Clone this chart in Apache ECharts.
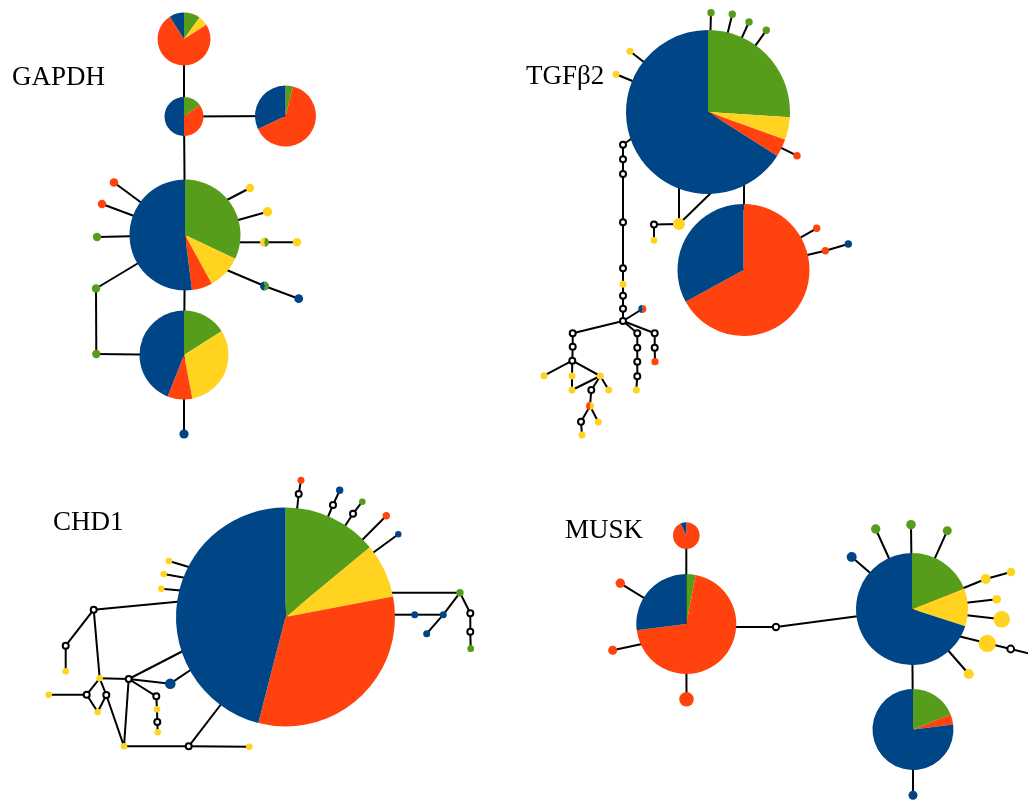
<!DOCTYPE html>
<html>
<head>
<meta charset="utf-8">
<title>Haplotype networks</title>
<script src="https://cdn.jsdelivr.net/npm/echarts@6/dist/echarts.min.js"></script>
<style>
  html, body { margin: 0; padding: 0; background: #ffffff; }
  #chart { width: 1028px; height: 800px; }
</style>
</head>
<body>
<div id="chart"></div>
<script>
// Sample groups, in the order the wedges run clockwise from 12 o'clock
const groupColors = ['#579d1c', '#ffd320', '#ff420e', '#004586'];

// ---------- GAPDH ----------
// sample counts per haplotype: [green, yellow, red, blue]; all zero = inferred haplotype
const gapdhCounts = {
  g1: [10, 6, 75, 9], g2: [15, 0, 35, 50], g3: [4, 0, 64, 32],
  g4: [32, 10, 6, 52], g5: [16, 31, 9, 44], g6: [0, 0, 0, 1],
  g7: [0, 0, 1, 0], g8: [0, 0, 1, 0], g9: [1, 0, 0, 0], g10: [1, 0, 0, 0],
  g11: [1, 0, 0, 0], g12: [0, 1, 0, 0], g13: [0, 1, 0, 0], g14: [1, 1, 0, 0],
  g15: [0, 1, 0, 0], g16: [1, 0, 0, 1], g17: [0, 0, 0, 1]
};
// network layout: x, y, node radius
const gapdhLayout = {
  g1: [184, 39, 26.5], g2: [184, 116.5, 19.5], g3: [285.5, 116, 30.5],
  g4: [185, 235, 55.5], g5: [184, 355, 44.5], g6: [184, 434, 4.6],
  g7: [114, 182.5, 4.3], g8: [102, 204, 4.2], g9: [97, 237, 4.2], g10: [96, 288.5, 4.2],
  g11: [96.3, 354, 4.2], g12: [250, 188, 4.2], g13: [267.5, 211.7, 4.7], g14: [264.5, 242.3, 4.5],
  g15: [297, 242.3, 4.2], g16: [264.5, 286, 4.5], g17: [298.7, 298.7, 4.4]
};
const gapdhLinks = [
  ['g1', 'g2'], ['g2', 'g3'], ['g2', 'g4'], ['g4', 'g5'], ['g5', 'g6'],
  ['g4', 'g7'], ['g4', 'g8'], ['g4', 'g9'], ['g4', 'g10'], ['g10', 'g11'], ['g11', 'g5'],
  ['g12', [225, 201]], ['g4', 'g13'], ['g14', [235, 242.3]], ['g14', 'g15'],
  ['g16', [222, 268]], ['g16', 'g17']
];

// ---------- TGFβ2 ----------
const tgfCounts = {
  t1: [26, 4.5, 3.5, 66], t2: [0, 0, 67, 33],
  t3: [1, 0, 0, 0], t4: [1, 0, 0, 0], t5: [1, 0, 0, 0], t6: [1, 0, 0, 0],
  t7: [0, 1, 0, 0], t8: [0, 1, 0, 0], t9: [0, 0, 1, 0], t10: [0, 1, 0, 0],
  t11: [0, 0, 0, 0], t12: [0, 1, 0, 0], t13: [0, 0, 1, 0], t14: [0, 0, 1, 0], t15: [0, 0, 0, 1],
  w1: [0, 0, 0, 0], w2: [0, 0, 0, 0], w3: [0, 0, 0, 0], w4: [0, 0, 0, 0], w5: [0, 0, 0, 0],
  t16: [0, 1, 0, 0], w6: [0, 0, 0, 0], w7: [0, 0, 0, 0], w8: [0, 0, 0, 0], t17: [0, 0, 1, 1],
  w9: [0, 0, 0, 0], w12: [0, 0, 0, 0], w13: [0, 0, 0, 0],
  t18: [0, 1, 0, 0], t19: [0, 1, 0, 0], t20: [0, 1, 0, 0], t21: [0, 1, 0, 0], t22: [0, 1, 0, 0],
  w14: [0, 0, 0, 0], t23: [0, 1, 1, 0], w15: [0, 0, 0, 0], t24: [0, 1, 0, 0], t25: [0, 1, 0, 0],
  w10: [0, 0, 0, 0], w16: [0, 0, 0, 0], w17: [0, 0, 0, 0], w18: [0, 0, 0, 0], t26: [0, 1, 0, 0],
  w11: [0, 0, 0, 0], w19: [0, 0, 0, 0], t27: [0, 0, 1, 0]
};
const tgfLayout = {
  t1: [708, 112, 82], t2: [743.5, 270, 66],
  t3: [711, 12.7, 3.7], t4: [732.3, 14.3, 3.7], t5: [749, 22, 3.7], t6: [766.3, 30.3, 3.7],
  t7: [630, 51.3, 3.5], t8: [616, 74.3, 3.5], t9: [797, 155.7, 3.7], t10: [679, 224, 6],
  t11: [654, 224.5, 3], t12: [654, 240.3, 3.4], t13: [816.7, 228.3, 3.7], t14: [825.3, 250.7, 3.7],
  t15: [848.3, 244, 3.7],
  w1: [623, 144.7, 3], w2: [623, 159.3, 3], w3: [623, 174, 3], w4: [623, 222.3, 3],
  w5: [623, 268.3, 3], t16: [623, 284.3, 3.5], w6: [623, 295.7, 3], w7: [623, 308.7, 3],
  w8: [623, 321, 3], t17: [642.3, 309, 4],
  w9: [572.7, 333.3, 3], w12: [572.7, 346.7, 3], w13: [572.3, 360.7, 3],
  t18: [544, 375.7, 3.5], t19: [572, 376, 3.5], t20: [600.3, 376, 3.5], t21: [572, 390, 3.5],
  t22: [608.7, 390, 3.5], w14: [591.3, 390, 3], t23: [590, 406, 4], w15: [581, 421.7, 3],
  t24: [598.3, 422, 3.5], t25: [582, 435, 3.5],
  w10: [637.3, 333.3, 3], w16: [637.3, 347.7, 3], w17: [637.3, 361.7, 3],
  w18: [637.3, 376.3, 3], t26: [636.3, 390, 3.5],
  w11: [654.7, 333.3, 3], w19: [654.7, 347.7, 3], t27: [655, 361.7, 3.6]
};
const tgfLinks = [
  ['t1', 't3'], ['t1', 't4'], ['t1', 't5'], ['t1', 't6'], ['t1', 't7'], ['t1', 't8'], ['t1', 't9'],
  ['t10', [679, 185]], ['t10', [714, 190]], ['t10', 't11'], ['t11', 't12'],
  [[744, 180], [744, 210]], ['t2', 't13'], ['t2', 't14'], ['t14', 't15'],
  [[633, 137.5], 'w1'], ['w1', 'w2'], ['w2', 'w3'], ['w3', 'w4'], ['w4', 'w5'], ['w5', 't16'],
  ['t16', 'w6'], ['w6', 'w7'], ['w7', 'w8'], ['w8', 't17'], ['w8', 'w9'], ['w8', 'w10'], ['w8', 'w11'],
  ['w9', 'w12'], ['w12', 'w13'], ['w13', 't18'], ['w13', 't19'], ['w13', 't20'], ['t19', 't21'],
  ['t21', 't20'], ['t20', 't22'], ['t20', 'w14'], ['w14', 't23'], ['t23', 'w15'], ['t23', 't24'],
  ['w15', 't25'], ['w10', 'w16'], ['w16', 'w17'], ['w17', 'w18'], ['w18', 't26'],
  ['w11', 'w19'], ['w19', 't27']
];

// ---------- CHD1 ----------
const chdCounts = {
  c1: [14, 8, 32, 46],
  c2: [0, 0, 1, 0], c3: [0, 0, 0, 0], c4: [0, 0, 0, 1], c5: [0, 0, 0, 0], c6: [1, 0, 0, 0],
  c7: [0, 0, 0, 0], c8: [0, 0, 1, 0], c9: [0, 0, 0, 1],
  c10: [1, 0, 0, 0], c11: [0, 0, 0, 1], c12: [0, 0, 0, 1], c13: [0, 0, 0, 1], c14: [0, 0, 0, 0],
  c15: [0, 0, 0, 0], c16: [1, 0, 0, 0],
  c17: [0, 1, 0, 0], c18: [0, 1, 0, 0], c19: [0, 1, 0, 0], c20: [0, 0, 0, 0], c21: [0, 0, 0, 0],
  c22: [0, 1, 0, 0], c23: [0, 1, 0, 0], c24: [0, 0, 0, 0], c25: [0, 0, 0, 1], c26: [0, 0, 0, 0],
  c27: [0, 1, 0, 0], c28: [0, 0, 0, 0], c29: [0, 1, 0, 0], c30: [0, 1, 0, 0], c31: [0, 0, 0, 0],
  c32: [0, 0, 0, 0], c33: [0, 1, 0, 0], c34: [0, 1, 0, 0], c35: [0, 0, 0, 0], c36: [0, 1, 0, 0]
};
const chdLayout = {
  c1: [285.5, 617, 109.5],
  c2: [301, 480.3, 3.5], c3: [298.7, 494, 3], c4: [339.7, 490.3, 3.7], c5: [333, 505, 3],
  c6: [362.3, 501.7, 3.3], c7: [353, 513.7, 3], c8: [386.3, 515.7, 3.7], c9: [398.3, 534.3, 3.2],
  c10: [460, 592.7, 3.7], c11: [414.7, 614.7, 3.5], c12: [443.3, 614.7, 3.5], c13: [426.7, 633.7, 3.5],
  c14: [470.3, 613.3, 3], c15: [470.3, 631.7, 3], c16: [470.7, 648.7, 3.4],
  c17: [169, 561, 3.3], c18: [163.7, 574, 3.3], c19: [161.3, 588.7, 3.3], c20: [93.7, 609.7, 3],
  c21: [65.7, 645.7, 3], c22: [65.7, 671.3, 3.3], c23: [99.7, 678.3, 3.3], c24: [128.7, 679, 3],
  c25: [170.3, 683.7, 5.3], c26: [156.3, 696.3, 3], c27: [157, 709.3, 3.3], c28: [157.3, 722, 3],
  c29: [157.7, 732.3, 3.3], c30: [124, 746.3, 3.3], c31: [86.7, 694.7, 3], c32: [106.3, 695, 3],
  c33: [48.7, 694.7, 3.3], c34: [97.7, 712, 3.3], c35: [188.7, 746.3, 3], c36: [249.3, 746.7, 3.3]
};
const chdLinks = [
  ['c2', 'c3'], ['c3', 'c1'], ['c4', 'c5'], ['c5', 'c1'], ['c6', 'c7'], ['c7', 'c1'],
  ['c8', 'c1'], ['c9', 'c1'],
  ['c10', [380, 592.7]], ['c11', [388, 614.7]], ['c11', 'c12'], ['c12', 'c10'], ['c12', 'c13'],
  ['c10', 'c14'], ['c14', 'c15'], ['c15', 'c16'],
  ['c17', [192, 568]], ['c18', [186, 578]], ['c19', [181, 590.5]], ['c20', [180, 601.5]],
  ['c20', 'c21'], ['c21', 'c22'], ['c20', 'c23'], ['c23', 'c24'], ['c24', [183, 651]],
  ['c24', 'c25'], ['c25', [192, 669]], ['c24', 'c26'], ['c26', 'c27'], ['c27', 'c28'], ['c28', 'c29'],
  ['c24', 'c30'], ['c23', 'c31'], ['c23', 'c32'], ['c31', 'c33'], ['c31', 'c34'], ['c32', 'c34'],
  ['c32', 'c30'], ['c30', 'c35'], ['c35', 'c36'], ['c35', [222, 703]]
];

// ---------- MUSK ----------
const muskCounts = {
  m1: [0, 0, 93, 7], m2: [3, 0, 70, 27], m3: [0, 0, 1, 0], m4: [0, 0, 1, 0], m5: [0, 0, 1, 0],
  m6: [0, 0, 0, 0], m7: [19, 11, 0, 70], m8: [1, 0, 0, 0], m9: [1, 0, 0, 0], m10: [1, 0, 0, 0],
  m11: [0, 0, 0, 1], m12: [0, 1, 0, 0], m13: [0, 1, 0, 0], m14: [0, 1, 0, 0], m15: [0, 1, 0, 0],
  m16: [0, 1, 0, 0], m17: [0, 0, 0, 0], m18: [0, 1, 0, 0], m19: [19, 0, 4, 77], m20: [0, 0, 0, 1]
};
const muskLayout = {
  m1: [686.3, 535.5, 13.3], m2: [686.3, 624, 50], m3: [620.3, 583.3, 4.7], m4: [612.7, 650.3, 4.5],
  m5: [686.5, 699.3, 7.3], m6: [776, 627, 3.2], m7: [912, 609, 56], m8: [875.7, 529, 4.7],
  m9: [911, 524.7, 4.8], m10: [947.3, 530.7, 4.5], m11: [851.7, 557, 5], m12: [985.7, 579, 5],
  m13: [1011, 572, 4.3], m14: [996.7, 599.3, 4.3], m15: [1001.7, 619.3, 8.3], m16: [987.3, 643.3, 8.6],
  m17: [1010.7, 649, 3.4], m18: [968.7, 674, 5], m19: [913, 729.5, 40.5], m20: [913, 795.3, 4.5]
};
const muskLinks = [
  ['m1', 'm2'], ['m2', 'm3'], ['m4', [642, 644]], ['m2', 'm5'], [[730, 627], 'm6'], ['m6', 'm7'],
  ['m7', 'm8'], ['m7', 'm9'], ['m7', 'm10'], ['m7', 'm11'], ['m7', 'm12'], ['m12', 'm13'],
  ['m7', 'm14'], ['m7', 'm15'], [[958, 636], 'm16'], ['m16', 'm17'], ['m17', [1035, 655]],
  ['m7', 'm18'], ['m7', 'm19'], ['m19', 'm20']
];

// Gene names shown beside each network
const geneNames = ['GAPDH', 'TGFβ2', 'CHD1', 'MUSK'];

const networks = [
  [gapdhCounts, gapdhLayout, gapdhLinks],
  [tgfCounts, tgfLayout, tgfLinks],
  [chdCounts, chdLayout, chdLinks],
  [muskCounts, muskLayout, muskLinks]
];

const nodeData = [];
const linkData = [];
networks.forEach(([counts, layout, links]) => {
  Object.keys(counts).forEach((id) => {
    const [x, y, r] = layout[id];
    nodeData.push([x, y, r].concat(counts[id]));
  });
  const at = (p) => (typeof p === 'string' ? layout[p].slice(0, 2) : p);
  links.forEach(([a, b]) => linkData.push(at(a).concat(at(b))));
});

function renderLink(params, api) {
  const p1 = api.coord([api.value(0), api.value(1)]);
  const p2 = api.coord([api.value(2), api.value(3)]);
  return {
    type: 'line',
    shape: { x1: p1[0], y1: p1[1], x2: p2[0], y2: p2[1] },
    style: { stroke: '#000000', lineWidth: 2 }
  };
}

function renderHaplotype(params, api) {
  const c = api.coord([api.value(0), api.value(1)]);
  const r = api.size([api.value(2), 0])[0];
  const counts = [api.value(3), api.value(4), api.value(5), api.value(6)];
  const total = counts.reduce((s, v) => s + v, 0);
  if (total === 0) {
    return {
      type: 'circle',
      shape: { cx: c[0], cy: c[1], r: r },
      style: { fill: '#ffffff', stroke: '#000000', lineWidth: 2 }
    };
  }
  const children = [];
  let angle = -Math.PI / 2;
  counts.forEach((v, i) => {
    if (v <= 0) return;
    const sweep = (v / total) * Math.PI * 2;
    if (sweep >= Math.PI * 2 - 1e-6) {
      children.push({ type: 'circle', shape: { cx: c[0], cy: c[1], r: r }, style: { fill: groupColors[i] } });
    } else {
      children.push({
        type: 'sector',
        shape: { cx: c[0], cy: c[1], r0: 0, r: r, startAngle: angle, endAngle: angle + sweep, clockwise: true },
        style: { fill: groupColors[i] }
      });
    }
    angle += sweep;
  });
  return { type: 'group', children: children };
}

const titleFont = { fontFamily: '"Liberation Serif", "DejaVu Serif", serif', fontSize: 27, fontWeight: 'normal', color: '#000000' };
const titlePos = [[12, 64], [526, 63], [53, 509], [565, 517]];

const chart = echarts.init(document.getElementById('chart'), null, { renderer: 'canvas' });
chart.setOption({
  animation: false,
  backgroundColor: '#ffffff',
  title: geneNames.map((name, i) => ({
    text: name, left: titlePos[i][0], top: titlePos[i][1], padding: 0, textStyle: titleFont
  })),
  grid: { left: 0, right: 0, top: 0, bottom: 0 },
  xAxis: { type: 'value', min: 0, max: 1028, show: false },
  yAxis: { type: 'value', min: 0, max: 800, inverse: true, show: false },
  series: [
    {
      type: 'custom', name: 'links', silent: true, clip: false, z: 1,
      renderItem: renderLink, encode: { x: [0, 2], y: [1, 3] }, data: linkData
    },
    {
      type: 'custom', name: 'haplotypes', silent: true, clip: false, z: 2,
      renderItem: renderHaplotype, encode: { x: 0, y: 1 }, data: nodeData
    }
  ]
});
</script>
</body>
</html>
